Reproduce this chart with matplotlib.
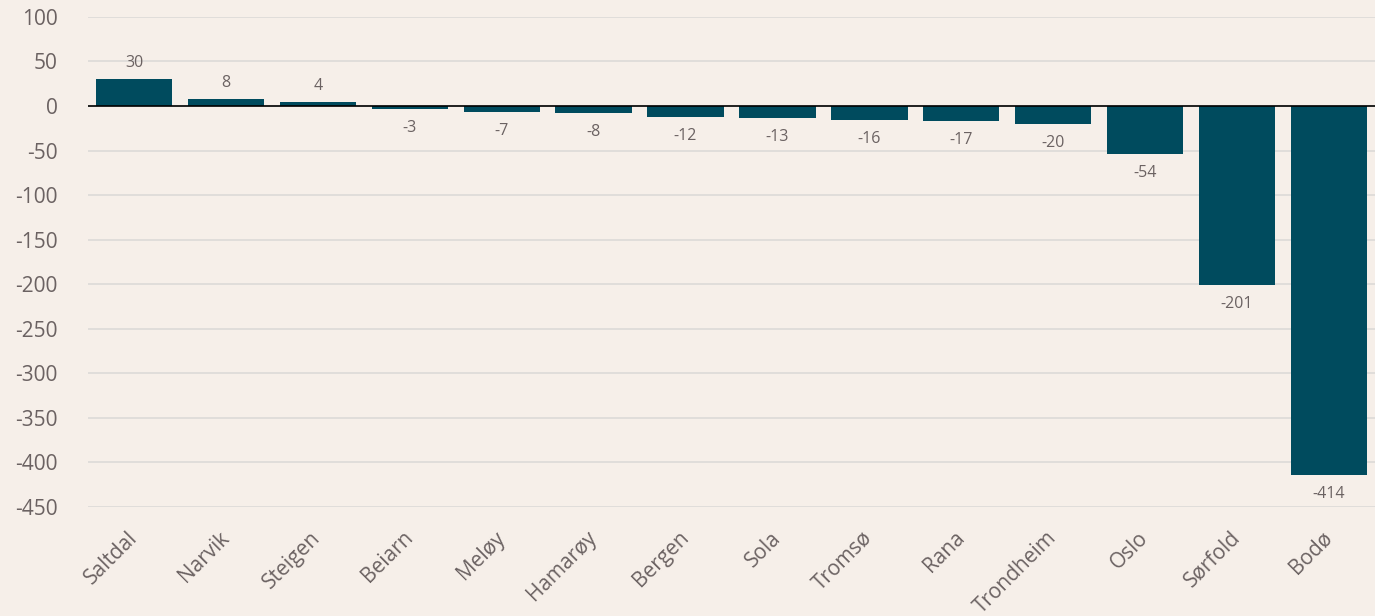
import numpy as np
import matplotlib
matplotlib.use("Agg")
from matplotlib import pyplot as plt

# data
places = ["Saltdal", "Narvik", "Steigen", "Beiarn", "Meløy", "Hamarøy", "Bergen",
          "Sola", "Tromsø", "Rana", "Trondheim", "Oslo", "Sørfold", "Bodø"]
values = [30, 8, 4, -3, -7, -8, -12, -13, -16, -17, -20, -54, -201, -414]
yticks = [100, 50, 0, -50, -100, -150, -200, -250, -300, -350, -400, -450]

bg = "#f6efe9"
bar_col = "#004b5e"
txt_col = "#6b6262"

plt.rcParams['font.family'] = ['Open Sans', 'DejaVu Sans']

fig = plt.figure(figsize=(13.75, 6.16), dpi=100, facecolor=bg)
ax = fig.add_axes([0.064, 0.177, 0.936, 0.7955])
ax.set_facecolor(bg)

x = np.arange(len(places))
bars = ax.bar(x, values, width=0.83, color=bar_col, zorder=3)

for b, v in zip(bars, values):
    if v >= 0:
        ax.annotate(str(v), (b.get_x() + b.get_width() / 2, v), xytext=(0, 6),
                    textcoords="offset points", ha="center", va="bottom",
                    fontsize=11.5, color=txt_col)
    else:
        ax.annotate(str(v), (b.get_x() + b.get_width() / 2, v), xytext=(0, -8),
                    textcoords="offset points", ha="center", va="top",
                    fontsize=11.5, color=txt_col)

ax.set_xlim(-0.5, len(places) - 0.5)
ax.set_ylim(-450, 100)
ax.set_yticks(yticks)
ax.set_yticklabels([str(t) for t in yticks], fontsize=15, color=txt_col)
ax.yaxis.grid(True, color="#dcdad8", linewidth=1.2, zorder=0)
ax.axhline(0, color="black", linewidth=1.2, zorder=4)

ax.set_xticks(x)
ax.set_xticklabels(places, rotation=45, ha="right", va="center",
                   rotation_mode="anchor", fontsize=15, color=txt_col)
ax.tick_params(axis="both", length=0)
ax.tick_params(axis="x", pad=20)
ax.tick_params(axis="y", pad=22)
for s in ax.spines.values():
    s.set_visible(False)

fig.savefig("out.png", dpi=100, facecolor=bg)
